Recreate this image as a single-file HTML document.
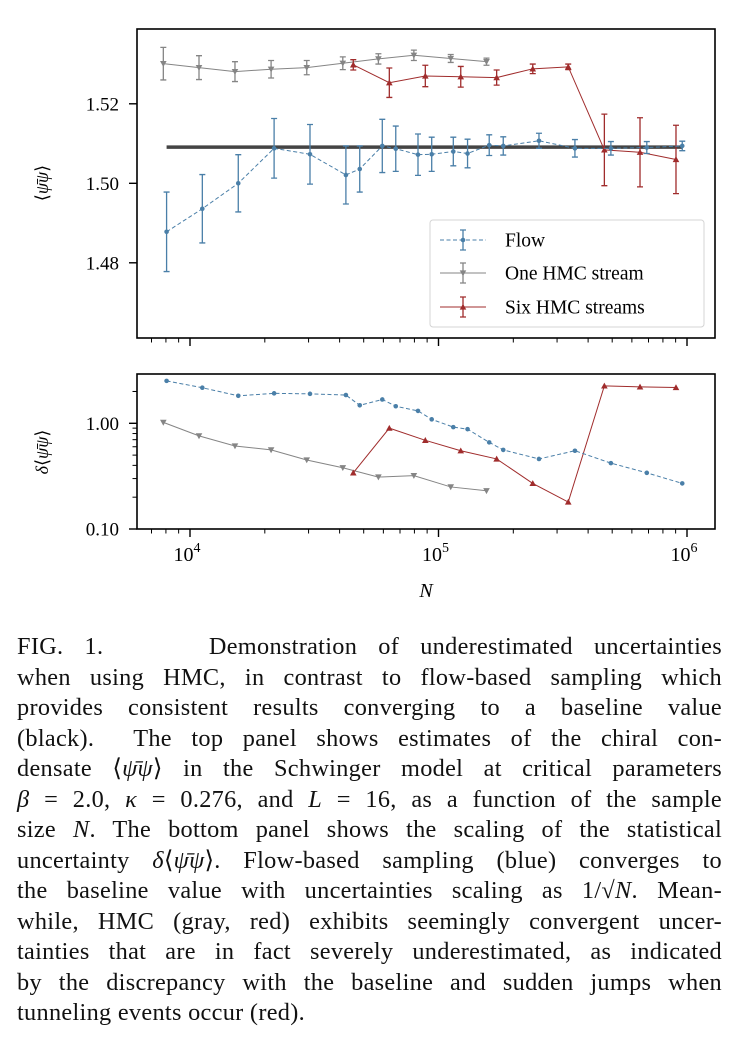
<!DOCTYPE html>
<html><head><meta charset="utf-8">
<style>
html,body{margin:0;padding:0;background:#fff;}
body{width:745px;height:1041px;position:relative;overflow:hidden;font-family:"Liberation Serif",serif;}
#chart{position:absolute;left:0;top:0;}
.cap{position:absolute;left:17px;width:705px;font-size:24.3px;letter-spacing:0.3px;line-height:26px;text-align:justify;text-align-last:justify;white-space:nowrap;color:#111;}
.cap.last{text-align-last:left;}
</style></head><body>
<svg id="chart" width="745" height="620" xmlns="http://www.w3.org/2000/svg" font-family="Liberation Serif, serif"></svg>
<div>
<div class="cap" style="top:634px">FIG. 1. &nbsp;&nbsp;&nbsp; Demonstration of underestimated uncertainties</div>
<div class="cap" style="top:665px">when using HMC, in contrast to flow-based sampling which</div>
<div class="cap" style="top:695px">provides consistent results converging to a baseline value</div>
<div class="cap" style="top:726px">(black). &nbsp;The top panel shows estimates of the chiral con-</div>
<div class="cap" style="top:756px">densate ⟨<i>ψ̄ψ</i>⟩ in the Schwinger model at critical parameters</div>
<div class="cap" style="top:787px"><i>β</i> = 2.0, <i>κ</i> = 0.276, and <i>L</i> = 16, as a function of the sample</div>
<div class="cap" style="top:817px">size <i>N</i>. The bottom panel shows the scaling of the statistical</div>
<div class="cap" style="top:848px">uncertainty <i>δ</i>⟨<i>ψ̄ψ</i>⟩. Flow-based sampling (blue) converges to</div>
<div class="cap" style="top:878px">the baseline value with uncertainties scaling as 1/√<i>N</i>. Mean-</div>
<div class="cap" style="top:909px">while, HMC (gray, red) exhibits seemingly convergent uncer-</div>
<div class="cap" style="top:939px">tainties that are in fact severely underestimated, as indicated</div>
<div class="cap" style="top:970px">by the discrepancy with the baseline and sudden jumps when</div>
<div class="cap last" style="top:1000px">tunneling events occur (red).</div>
</div>
<script>
// ---- data ----
const flowN = [8050,11210,15640,21800,30400,42400,48200,59400,67300,82700,93900,114700,130900,160000,182200,253700,354000,494000,689000,957000];
const flowMean = [1.4878,1.4936,1.5000,1.5088,1.5073,1.5021,1.5036,1.5094,1.5087,1.5072,1.5073,1.5080,1.5075,1.5096,1.5094,1.5107,1.5088,1.5088,1.5090,1.5094];
const flowErr = [0.0100,0.0086,0.0072,0.0075,0.0075,0.0073,0.0058,0.0067,0.0057,0.0052,0.0043,0.0036,0.0036,0.0026,0.0023,0.0019,0.0022,0.0017,0.0015,0.0012];
const flowDelta = [2.52,2.17,1.82,1.92,1.90,1.85,1.48,1.68,1.45,1.31,1.09,0.92,0.88,0.66,0.56,0.46,0.55,0.42,0.34,0.27];
const oneN = [7810,10870,15170,21200,29500,41200,57300,79600,112000,156000];
const oneMean = [1.5301,1.5291,1.5281,1.5287,1.5291,1.5302,1.5313,1.5322,1.5314,1.5306];
const oneErr = [0.0041,0.0030,0.0025,0.0022,0.0018,0.0016,0.0013,0.0013,0.0010,0.0009];
const oneDelta = [1.02,0.76,0.61,0.56,0.45,0.38,0.31,0.32,0.25,0.23];
const sixN = [45400,63400,88500,122900,171400,239500,332700,465000,647000,903000];
const sixMean = [1.5298,1.5253,1.5270,1.5268,1.5266,1.5288,1.5293,1.5084,1.5078,1.5060];
const sixErr = [0.0013,0.0037,0.0027,0.0026,0.0019,0.0012,0.0007,0.0090,0.0087,0.0086];
const sixDelta = [0.34,0.90,0.69,0.55,0.46,0.27,0.18,2.26,2.21,2.18];
const baseline = 1.5091;
const baselineRange = [8050,957000];
const topTicks = [1.48,1.50,1.52];
const topTickLabels = ["1.48","1.50","1.52"];
const botTicks = [0.1,1.0];
const botTickLabels = ["0.10","1.00"];
const xMajor = [4,5,6];

// ---- geometry ----
const L=137,R=715,T1=29,B1=338,T2=374,B2=529;
const X0=190,DEC=248.5;
const xs = n => X0 + (Math.log10(n)-4)*DEC;
const y1 = v => 183.3 - (v-1.50)*3975;
const y2 = v => 423.3 - Math.log10(v)*105.7;
const NS="http://www.w3.org/2000/svg";
const svgEl=document.getElementById('chart');
function mk(tag,attrs,parent){const e=document.createElementNS(NS,tag);for(const k in attrs)e.setAttribute(k,attrs[k]);(parent||svgEl).appendChild(e);return e;}

const C_FLOW="#4a7fa8",C_ONE="#858585",C_SIX="#a02c2c";

const gTop=mk('g',{});


const gBot=mk('g',{});



[[gTop,B1],[gBot,B2]].forEach(([g,B])=>{
  for(let d=3;d<=6;d++){
    for(let m=1;m<=9;m++){
      const n=m*Math.pow(10,d);const x=xs(n);
      if(x<L||x>R)continue;
      const t=mk('line',{x1:x,x2:x,y1:B,y2:B+(m===1?8:4.5),stroke:'#000','stroke-width':m===1?1.4:1},g);
      
      
    }
  }
});
xMajor.forEach(p=>{
  const x=xs(Math.pow(10,p));
  const t=mk('text',{x:x-3,y:561,'text-anchor':'middle','font-size':20},gBot);
  
  
  t.innerHTML='10<tspan dy="-9" font-size="14">'+p+'</tspan>';
});
const xl=mk('text',{x:426,y:597,'text-anchor':'middle','font-size':20,'font-style':'italic'},gBot);


xl.textContent='N';

topTicks.forEach((v,i)=>{
  const y=y1(v);
  const t=mk('line',{x1:L-8,x2:L,y1:y,y2:y,stroke:'#000','stroke-width':1.4},gTop);
  
  
  const tx=mk('text',{x:119,y:y+6.5,'text-anchor':'end','font-size':19},gTop);
  
  
  tx.textContent=topTickLabels[i];
});
const yl1=mk('text',{x:0,y:0,'text-anchor':'middle','font-size':18,transform:'translate(48,183) rotate(-90)'},gTop);


yl1.innerHTML='⟨<tspan font-style="italic">ψ̄ψ</tspan>⟩';

for(let d=-1;d<=0;d++){for(let m=1;m<=9;m++){
  const v=m*Math.pow(10,d);const y=y2(v);
  if(y<T2-0.5||y>B2+0.5)continue;
  const t=mk('line',{x1:L-(m===1?8:4.5),x2:L,y1:y,y2:y,stroke:'#000','stroke-width':m===1?1.4:1},gBot);
  
  
}}
[2].forEach(m=>{const y=y2(m);
  const t=mk('line',{x1:L-4.5,x2:L,y1:y,y2:y,stroke:'#000','stroke-width':1},gBot);
  
  });
botTicks.forEach((v,i)=>{
  const tx=mk('text',{x:119,y:y2(v)+6.5,'text-anchor':'end','font-size':19},gBot);
  
  
  tx.textContent=botTickLabels[i];
});
const yl2=mk('text',{x:0,y:0,'text-anchor':'middle','font-size':18,transform:'translate(48,452) rotate(-90)'},gBot);


yl2.innerHTML='<tspan font-style="italic">δ</tspan>⟨<tspan font-style="italic">ψ̄ψ</tspan>⟩';

const bl=mk('line',{x1:xs(baselineRange[0]),x2:xs(baselineRange[1]),y1:y1(baseline),y2:y1(baseline),stroke:'#444','stroke-width':3.5},gTop);



function marker(g,type,x,y,color,s){
  let e;
  if(type==='o') e=mk('circle',{cx:x,cy:y,r:s,fill:color},g);
  else if(type==='v') e=mk('path',{d:`M${x-s},${y-s*0.8}L${x+s},${y-s*0.8}L${x},${y+s}Z`,fill:color},g);
  else e=mk('path',{d:`M${x-s},${y+s*0.8}L${x+s},${y+s*0.8}L${x},${y-s}Z`,fill:color},g);
  return e;
}
function series(name,Ns,means,errs,deltas,color,dash,mtype){
  const gt=mk('g',{},gTop);
  
  
  Ns.forEach((n,i)=>{
    const x=xs(n),ya=y1(means[i]+errs[i]),yb=y1(means[i]-errs[i]);
    const eb=mk('path',{d:`M${x},${ya}V${yb}M${x-3},${ya}H${x+3}M${x-3},${yb}H${x+3}`,stroke:color,'stroke-width':1.3,fill:'none'},gt);
    
    
  });
  const p1=mk('polyline',{points:Ns.map((n,i)=>xs(n)+','+y1(means[i])).join(' '),stroke:color,'stroke-width':1,fill:'none','stroke-dasharray':dash},gt);
  
  
  Ns.forEach((n,i)=>{const m=marker(gt,mtype,xs(n),y1(means[i]),color,mtype==='o'?2.3:3.3);
    
    });
  const gb=mk('g',{},gBot);
  
  
  const p2=mk('polyline',{points:Ns.map((n,i)=>xs(n)+','+y2(deltas[i])).join(' '),stroke:color,'stroke-width':1,fill:'none','stroke-dasharray':dash},gb);
  
  
  Ns.forEach((n,i)=>{const m=marker(gb,mtype,xs(n),y2(deltas[i]),color,mtype==='o'?2.3:3.3);
    
    });
}
series('one-hmc',oneN,oneMean,oneErr,oneDelta,C_ONE,'none','v');
series('six-hmc',sixN,sixMean,sixErr,sixDelta,C_SIX,'none','^');
series('flow',flowN,flowMean,flowErr,flowDelta,C_FLOW,'4,2.5','o');

const f1=mk('rect',{x:L,y:T1,width:R-L,height:B1-T1,fill:'none',stroke:'#000','stroke-width':1.6},gTop);


const f2=mk('rect',{x:L,y:T2,width:R-L,height:B2-T2,fill:'none',stroke:'#000','stroke-width':1.6},gBot);



const lg=mk('g',{},gTop);


mk('rect',{x:430,y:220,width:274,height:107,rx:3,fill:'#fff','fill-opacity':0.85,stroke:'#d4d4d4','stroke-width':1},lg);
[['Flow',C_FLOW,'4,2.5','o',240],['One HMC stream',C_ONE,'none','v',273],['Six HMC streams',C_SIX,'none','^',307]].forEach(([lab,c,d,mt,y])=>{
  const e=mk('g',{},lg);
  
  
  mk('line',{x1:440,x2:486,y1:y,y2:y,stroke:c,'stroke-width':1,'stroke-dasharray':d},e);
  mk('path',{d:`M463,${y-10}V${y+10}M460,${y-10}H466M460,${y+10}H466`,stroke:c,'stroke-width':1.3},e);
  marker(e,mt,463,y,c,mt==='o'?2.3:3.3);
  const t=mk('text',{x:505,y:y+6.5,'font-size':19.5},e);
  t.textContent=lab;
});
</script>
</body></html>
